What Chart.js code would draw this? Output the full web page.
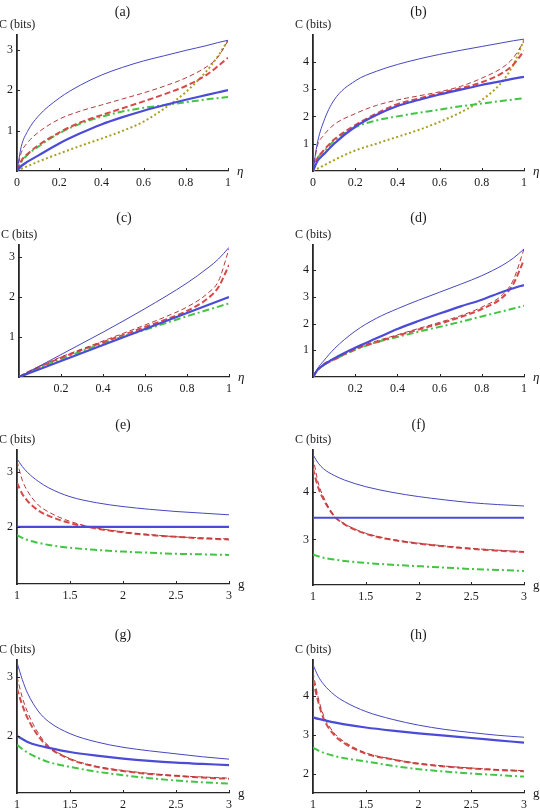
<!DOCTYPE html>
<html>
<head>
<meta charset="utf-8">
<script src="https://cdn.jsdelivr.net/npm/chart.js@4.4.1/dist/chart.umd.min.js"></script>
<style>
  html, body { margin: 0; padding: 0; background: #fff; }
  body { position: relative; width: 540px; height: 811px; overflow: hidden; }
  .panel { position: absolute; width: 270px; }
  .panel canvas { display: block; }
</style>
</head>
<body>
<script>
// x grids
const eta = [0, 0.02, 0.05, 0.1, 0.2, 0.3, 0.4, 0.5, 0.6, 0.7, 0.8, 0.9, 0.95, 1];
const gain = [1, 1.05, 1.1, 1.2, 1.3, 1.5, 1.75, 2, 2.25, 2.5, 2.75, 3];

// tick values
const etaTicksFull = [0, 0.2, 0.4, 0.6, 0.8, 1];
const etaTicks = [0.2, 0.4, 0.6, 0.8, 1];
const gTicks = [1, 1.5, 2, 2.5, 3];
const yTicks3 = [1, 2, 3];
const yTicks4 = [1, 2, 3, 4];
const yTicksE = [2, 3];
const yTicksF = [3, 4];
const yTicksG = [2, 3];
const yTicksH = [2, 3, 4];

// (a)
const aThinBlue  = [0, 0.6, 0.98, 1.35, 1.8, 2.12, 2.37, 2.56, 2.72, 2.85, 2.98, 3.1, 3.17, 3.23];
const aThickBlue = [0, 0.12, 0.23, 0.38, 0.68, 0.93, 1.15, 1.33, 1.49, 1.63, 1.76, 1.88, 1.94, 2.0];
const aThinRed   = [0, 0.45, 0.7, 0.95, 1.28, 1.48, 1.63, 1.78, 1.93, 2.1, 2.3, 2.58, 2.8, 3.22];
const aThickRed  = [0, 0.25, 0.42, 0.63, 0.95, 1.2, 1.38, 1.55, 1.72, 1.9, 2.1, 2.38, 2.58, 2.8];
const aGreen     = [0, 0.22, 0.4, 0.6, 0.93, 1.17, 1.34, 1.47, 1.56, 1.63, 1.7, 1.77, 1.8, 1.83];
const aOlive     = [0, 0.05, 0.12, 0.23, 0.43, 0.62, 0.8, 0.99, 1.22, 1.55, 1.95, 2.48, 2.82, 3.23];

// (b)
const bThinBlue  = [0, 1.0, 1.8, 2.6, 3.3, 3.65, 3.9, 4.1, 4.27, 4.42, 4.56, 4.7, 4.77, 4.83];
const bThickBlue = [0, 0.35, 0.6, 1.0, 1.62, 2.05, 2.38, 2.6, 2.8, 2.98, 3.15, 3.3, 3.38, 3.45];
const bThinRed   = [0, 0.9, 1.3, 1.7, 2.1, 2.4, 2.6, 2.75, 2.9, 3.1, 3.4, 3.8, 4.15, 4.75];
const bThickRed  = [0, 0.45, 0.75, 1.15, 1.68, 2.1, 2.45, 2.65, 2.85, 3.03, 3.25, 3.6, 3.9, 4.4];
const bGreen     = [0, 0.45, 0.7, 1.1, 1.6, 1.85, 2.0, 2.13, 2.25, 2.37, 2.47, 2.57, 2.62, 2.67];
const bOlive     = [0, 0.08, 0.2, 0.4, 0.75, 1.0, 1.25, 1.5, 1.8, 2.15, 2.6, 3.3, 3.9, 4.8];

// (c)
const cThinBlue  = [0, 0.055, 0.14, 0.28, 0.56, 0.84, 1.12, 1.41, 1.71, 2.02, 2.35, 2.73, 2.95, 3.24];
const cThickBlue = [0, 0.04, 0.1, 0.2, 0.4, 0.6, 0.8, 1.0, 1.2, 1.4, 1.6, 1.8, 1.9, 2.0];
const cThinRed   = [0, 0.06, 0.14, 0.27, 0.5, 0.7, 0.9, 1.1, 1.3, 1.51, 1.75, 2.1, 2.4, 3.2];
const cThickRed  = [0, 0.06, 0.14, 0.26, 0.48, 0.68, 0.87, 1.06, 1.25, 1.44, 1.65, 1.97, 2.25, 2.8];
const cGreen     = [0, 0.05, 0.12, 0.24, 0.45, 0.65, 0.84, 1.02, 1.18, 1.35, 1.52, 1.68, 1.76, 1.84];

// (d)
const dThinBlue  = [0, 0.3, 0.6, 1.05, 1.72, 2.2, 2.56, 2.88, 3.18, 3.48, 3.8, 4.2, 4.46, 4.8];
const dThickBlue = [0, 0.25, 0.45, 0.7, 1.1, 1.45, 1.8, 2.1, 2.38, 2.65, 2.9, 3.2, 3.33, 3.45];
const dThinRed   = [0, 0.25, 0.5, 0.7, 1.07, 1.35, 1.58, 1.82, 2.05, 2.3, 2.62, 3.1, 3.65, 4.8];
const dThickRed  = [0, 0.25, 0.45, 0.65, 1.05, 1.3, 1.55, 1.78, 2.0, 2.25, 2.55, 3.0, 3.5, 4.4];
const dGreen     = [0, 0.25, 0.45, 0.65, 1.02, 1.3, 1.5, 1.7, 1.88, 2.07, 2.27, 2.47, 2.57, 2.67];

// (e)
const eThinBlue  = [3.24, 3.1, 2.99, 2.83, 2.71, 2.55, 2.44, 2.37, 2.32, 2.28, 2.25, 2.22];
const eThickBlue = [2, 2, 2, 2, 2, 2, 2, 2, 2, 2, 2, 2];
const eThinRed   = [3.2, 2.85, 2.65, 2.4, 2.27, 2.1, 1.98, 1.91, 1.86, 1.82, 1.8, 1.78];
const eThickRed  = [2.8, 2.6, 2.47, 2.3, 2.2, 2.07, 1.97, 1.9, 1.85, 1.82, 1.79, 1.77];
const eGreen     = [1.85, 1.8, 1.76, 1.71, 1.67, 1.62, 1.58, 1.55, 1.53, 1.51, 1.5, 1.49];

// (f)
const fThinBlue  = [4.8, 4.62, 4.5, 4.36, 4.26, 4.12, 4.0, 3.91, 3.84, 3.78, 3.74, 3.71];
const fThickBlue = [3.46, 3.46, 3.46, 3.46, 3.46, 3.46, 3.46, 3.46, 3.46, 3.46, 3.46, 3.46];
const fThinRed   = [4.75, 4.2, 3.9, 3.5, 3.33, 3.13, 3.0, 2.92, 2.86, 2.81, 2.77, 2.74];
const fThickRed  = [4.5, 4.1, 3.85, 3.5, 3.32, 3.12, 2.99, 2.91, 2.85, 2.8, 2.76, 2.73];
const fGreen     = [2.68, 2.64, 2.61, 2.57, 2.54, 2.5, 2.46, 2.43, 2.4, 2.37, 2.35, 2.33];

// (g)
const gThinBlue  = [3.24, 2.95, 2.72, 2.42, 2.24, 2.04, 1.9, 1.81, 1.75, 1.7, 1.65, 1.61];
const gThickBlue = [2.0, 1.95, 1.9, 1.84, 1.8, 1.73, 1.67, 1.62, 1.58, 1.55, 1.53, 1.51];
const gThinRed   = [3.0, 2.65, 2.4, 2.05, 1.83, 1.62, 1.49, 1.42, 1.37, 1.33, 1.31, 1.29];
const gThickRed  = [2.8, 2.52, 2.3, 2.0, 1.81, 1.61, 1.48, 1.41, 1.36, 1.33, 1.3, 1.28];
const gGreen     = [1.85, 1.78, 1.72, 1.63, 1.56, 1.48, 1.4, 1.34, 1.29, 1.25, 1.22, 1.2];

// (h)
const hThinBlue  = [4.8, 4.5, 4.3, 4.03, 3.85, 3.6, 3.4, 3.25, 3.14, 3.06, 2.99, 2.94];
const hThickBlue = [3.45, 3.41, 3.38, 3.32, 3.27, 3.19, 3.11, 3.04, 2.98, 2.92, 2.86, 2.8];
const hThinRed   = [4.6, 3.95, 3.5, 3.05, 2.82, 2.54, 2.38, 2.27, 2.2, 2.15, 2.11, 2.08];
const hThickRed  = [4.4, 3.85, 3.42, 3.0, 2.78, 2.52, 2.37, 2.26, 2.19, 2.14, 2.1, 2.07];
const hGreen     = [2.67, 2.6, 2.54, 2.46, 2.4, 2.32, 2.21, 2.12, 2.06, 2.01, 1.97, 1.93];

const axisColor = '#262626';
const textColor = '#1a1a1a';
const serif = '"Liberation Serif", "DejaVu Serif", serif';

// line styles, in the order the series are listed for each panel
const styles = [
    { borderColor: '#4646c0', borderWidth: 1 },                           // thin blue
    { borderColor: '#4b4bd8', borderWidth: 2.2 },                         // thick blue
    { borderColor: '#b03c3c', borderWidth: 1, borderDash: [5, 3] },       // thin red dashed
    { borderColor: '#d84848', borderWidth: 2, borderDash: [6, 3] },       // thick red dashed
    { borderColor: '#44c444', borderWidth: 2, borderDash: [7, 3, 2, 3] }, // green dash-dot
    { borderColor: '#aaa020', borderWidth: 2, borderDash: [2, 2.5] },     // olive dotted
];

const panels = [
    { title: '(a)', xLabel: 'η', x: eta, xTicks: etaTicksFull, xMin: 0, xMax: 1, yMin: 0, yMax: 3.36, yTicks: yTicks3,
      series: [aThinBlue, aThickBlue, aThinRed, aThickRed, aGreen, aOlive],
      box: { left: 0, top: 0, height: 195, axisLeft: 17, axisRight: 228, axisTop: 35, axisBottom: 171, titleY: 12 } },
    { title: '(b)', xLabel: 'η', x: eta, xTicks: etaTicksFull, xMin: 0, xMax: 1, yMin: 0, yMax: 4.98, yTicks: yTicks4,
      series: [bThinBlue, bThickBlue, bThinRed, bThickRed, bGreen, bOlive],
      box: { left: 270, top: 0, height: 195, axisLeft: 313, axisRight: 524, axisTop: 35, axisBottom: 171, titleY: 12 } },
    { title: '(c)', xLabel: 'η', x: eta, xTicks: etaTicks, xMin: 0, xMax: 1, yMin: 0, yMax: 3.3, yTicks: yTicks3,
      series: [cThinBlue, cThickBlue, cThinRed, cThickRed, cGreen],
      box: { left: 0, top: 195, height: 205, axisLeft: 19, axisRight: 229, axisTop: 245, axisBottom: 377, titleY: 218 } },
    { title: '(d)', xLabel: 'η', x: eta, xTicks: etaTicks, xMin: 0, xMax: 1, yMin: 0, yMax: 4.95, yTicks: yTicks4,
      series: [dThinBlue, dThickBlue, dThinRed, dThickRed, dGreen],
      box: { left: 270, top: 195, height: 205, axisLeft: 313, axisRight: 524, axisTop: 245, axisBottom: 377, titleY: 218 } },
    { title: '(e)', xLabel: 'g', x: gain, xTicks: gTicks, xMin: 1, xMax: 3, yMin: 0.96, yMax: 3.4, yTicks: yTicksE,
      series: [eThinBlue, eThickBlue, eThinRed, eThickRed, eGreen],
      box: { left: 0, top: 400, height: 210, axisLeft: 17, axisRight: 229, axisTop: 450, axisBottom: 584, titleY: 425 } },
    { title: '(f)', xLabel: 'g', x: gain, xTicks: gTicks, xMin: 1, xMax: 3, yMin: 2.03, yMax: 4.9, yTicks: yTicksF,
      series: [fThinBlue, fThickBlue, fThinRed, fThickRed, fGreen],
      box: { left: 270, top: 400, height: 210, axisLeft: 313, axisRight: 524, axisTop: 450, axisBottom: 585, titleY: 425 } },
    { title: '(g)', xLabel: 'g', x: gain, xTicks: gTicks, xMin: 1, xMax: 3, yMin: 1.04, yMax: 3.28, yTicks: yTicksG,
      series: [gThinBlue, gThickBlue, gThinRed, gThickRed, gGreen],
      box: { left: 0, top: 610, height: 201, axisLeft: 17, axisRight: 229, axisTop: 660, axisBottom: 793, titleY: 635 } },
    { title: '(h)', xLabel: 'g', x: gain, xTicks: gTicks, xMin: 1, xMax: 3, yMin: 1.51, yMax: 4.92, yTicks: yTicksH,
      series: [hThinBlue, hThickBlue, hThinRed, hThickRed, hGreen],
      box: { left: 270, top: 610, height: 201, axisLeft: 313, axisRight: 524, axisTop: 660, axisBottom: 793, titleY: 635 } },
];

// inward tick marks, panel title and axis labels
const decor = {
    id: 'decor',
    afterDraw(chart, args, opts) {
        const { ctx, chartArea: a, scales: { x, y } } = chart;
        ctx.save();
        ctx.strokeStyle = axisColor;
        ctx.lineWidth = 1;
        ctx.beginPath();
        for (const t of x.ticks) {
            const px = Math.round(x.getPixelForValue(t.value)) + 0.5;
            if (px > a.left + 1) { ctx.moveTo(px, a.bottom); ctx.lineTo(px, a.bottom - 3); }
        }
        for (const t of y.ticks) {
            const py = Math.round(y.getPixelForValue(t.value)) + 0.5;
            if (py < a.bottom - 1) { ctx.moveTo(a.left, py); ctx.lineTo(a.left + 3, py); }
        }
        ctx.stroke();

        ctx.fillStyle = textColor;
        ctx.textBaseline = 'middle';
        ctx.textAlign = 'center';
        ctx.font = `14px ${serif}`;
        ctx.fillText(opts.title, (a.left + a.right) / 2, opts.titleY);

        ctx.textAlign = 'left';
        ctx.font = `12px ${serif}`;
        ctx.fillText('C (bits)', a.left - 18, a.top - 10);

        ctx.font = opts.xLabel === 'η' ? `italic 13px ${serif}` : `13px ${serif}`;
        ctx.fillText(opts.xLabel, a.right + 9, a.bottom + 1);
        ctx.restore();
    },
};

for (const p of panels) {
    const b = p.box;
    const wrap = document.createElement('div');
    wrap.className = 'panel';
    wrap.style.left = b.left + 'px';
    wrap.style.top = b.top + 'px';
    wrap.style.height = b.height + 'px';
    const canvas = document.createElement('canvas');
    canvas.width = 270;
    canvas.height = b.height;
    wrap.appendChild(canvas);
    document.body.appendChild(wrap);

    const tickFont = { family: serif, size: 12 };

    new Chart(canvas, {
        type: 'line',
        data: {
            datasets: p.series.map((ys, i) => ({
                data: p.x.map((xv, j) => ({ x: xv, y: ys[j] })),
                ...styles[i],
                pointRadius: 0,
                fill: false,
                cubicInterpolationMode: 'monotone',
            })),
        },
        options: {
            responsive: false,
            animation: false,
            events: [],
            layout: {
                padding: {
                    left: 0,
                    top: b.axisTop - b.top,
                    right: b.left + 270 - b.axisRight,
                    bottom: 0,
                },
            },
            plugins: {
                legend: { display: false },
                tooltip: { enabled: false },
                decor: { title: p.title, titleY: b.titleY - b.top, xLabel: p.xLabel },
            },
            scales: {
                x: {
                    type: 'linear',
                    min: p.xMin,
                    max: p.xMax,
                    bounds: 'data',
                    afterBuildTicks: (s) => { s.ticks = p.xTicks.map((v) => ({ value: v })); },
                    afterFit: (s) => {
                        s.height = b.top + b.height - b.axisBottom;
                        s.paddingLeft = 0;
                        s.paddingRight = 0;
                    },
                    grid: { display: false, drawTicks: false },
                    border: { display: true, color: axisColor, width: 1.3 },
                    ticks: { padding: 5, autoSkip: false, maxRotation: 0, font: tickFont, color: textColor, callback: (v) => String(v) },
                },
                y: {
                    type: 'linear',
                    min: p.yMin,
                    max: p.yMax,
                    bounds: 'data',
                    afterBuildTicks: (s) => { s.ticks = p.yTicks.map((v) => ({ value: v })); },
                    afterFit: (s) => {
                        s.width = b.axisLeft - b.left;
                        s.paddingTop = 0;
                        s.paddingBottom = 0;
                    },
                    grid: { display: false, drawTicks: false },
                    border: { display: true, color: axisColor, width: 1.8 },
                    ticks: { padding: 4, autoSkip: false, font: tickFont, color: textColor, callback: (v) => String(v) },
                },
            },
        },
        plugins: [decor],
    });
}
</script>
</body>
</html>
